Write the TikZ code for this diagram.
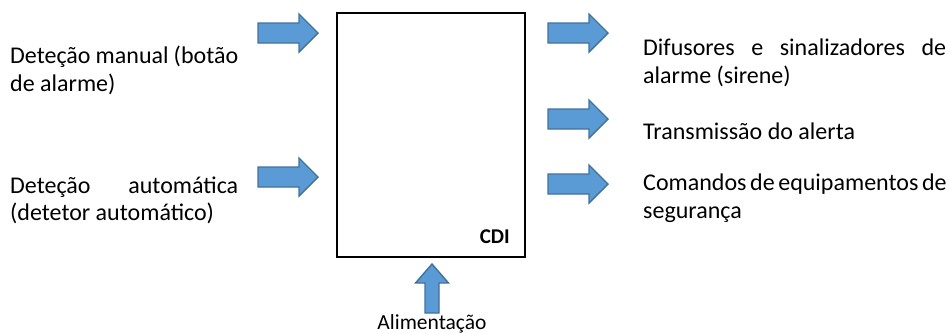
\documentclass[tikz,border=0pt]{standalone}
\usepackage{fontspec}
\setmainfont{Carlito}
\begin{document}
\begin{tikzpicture}[x=1pt,y=-1pt,
  arrowstyle/.style={fill=arrowfill,draw=arrowline,line width=1.4pt,line join=miter},
  rarr/.pic={\draw[arrowstyle] (-30,-10) -- (11,-10) -- (11,-19) -- (30,0) -- (11,19) -- (11,10) -- (-30,10) -- cycle;},
  uarr/.pic={\draw[arrowstyle] (-7,49) -- (-7,19) -- (-16.5,19) -- (0,0) -- (16.5,19) -- (7,19) -- (7,49) -- cycle;},
  txt/.style={anchor=base west,inner sep=0pt,font=\fontsize{24}{28}\selectfont},
  box/.style={draw=black,line width=2.2pt,inner sep=0pt}
]
\definecolor{arrowfill}{HTML}{5B9BD5}
\definecolor{arrowline}{HTML}{41719C}
\useasboundingbox (0,0) rectangle (949,333);
% central box
\node[box,minimum width=188pt,minimum height=244pt] (cdi) at (431,135) {};
\node[anchor=base east,inner sep=0pt,font=\fontsize{21}{24}\selectfont\bfseries] (cdilabel) at (510,243) {CDI};
% arrows
\pic at (288,33) {rarr};
\pic at (288,177) {rarr};
\pic at (578,33) {rarr};
\pic at (578,119) {rarr};
\pic at (578,184) {rarr};
\pic at (432,264) {uarr};
% left texts
\node[txt] (in1a) at (10,63) {\makebox[228pt][s]{Deteção manual (botão}};
\node[txt] (in1b) at (10,91) {de alarme)};
\node[txt] (in2a) at (10,193) {\makebox[228pt][s]{Deteção automática}};
\node[txt] (in2b) at (10,220) {(detetor automático)};
% right texts
\node[txt] (out1a) at (643,55) {\makebox[303pt][s]{Difusores e sinalizadores de}};
\node[txt] (out1b) at (643,83) {alarme (sirene)};
\node[txt] (out2) at (643,139) {Transmissão do alerta};
\node[txt] (out3a) at (643,190) {\makebox[303pt][s]{Comandos de equipamentos de}};
\node[txt] (out3b) at (643,218) {segurança};
% bottom
\node[anchor=base,inner sep=0pt,font=\fontsize{21.5}{26}\selectfont] (power) at (432,329) {Alimentação};
\end{tikzpicture}
\end{document}
